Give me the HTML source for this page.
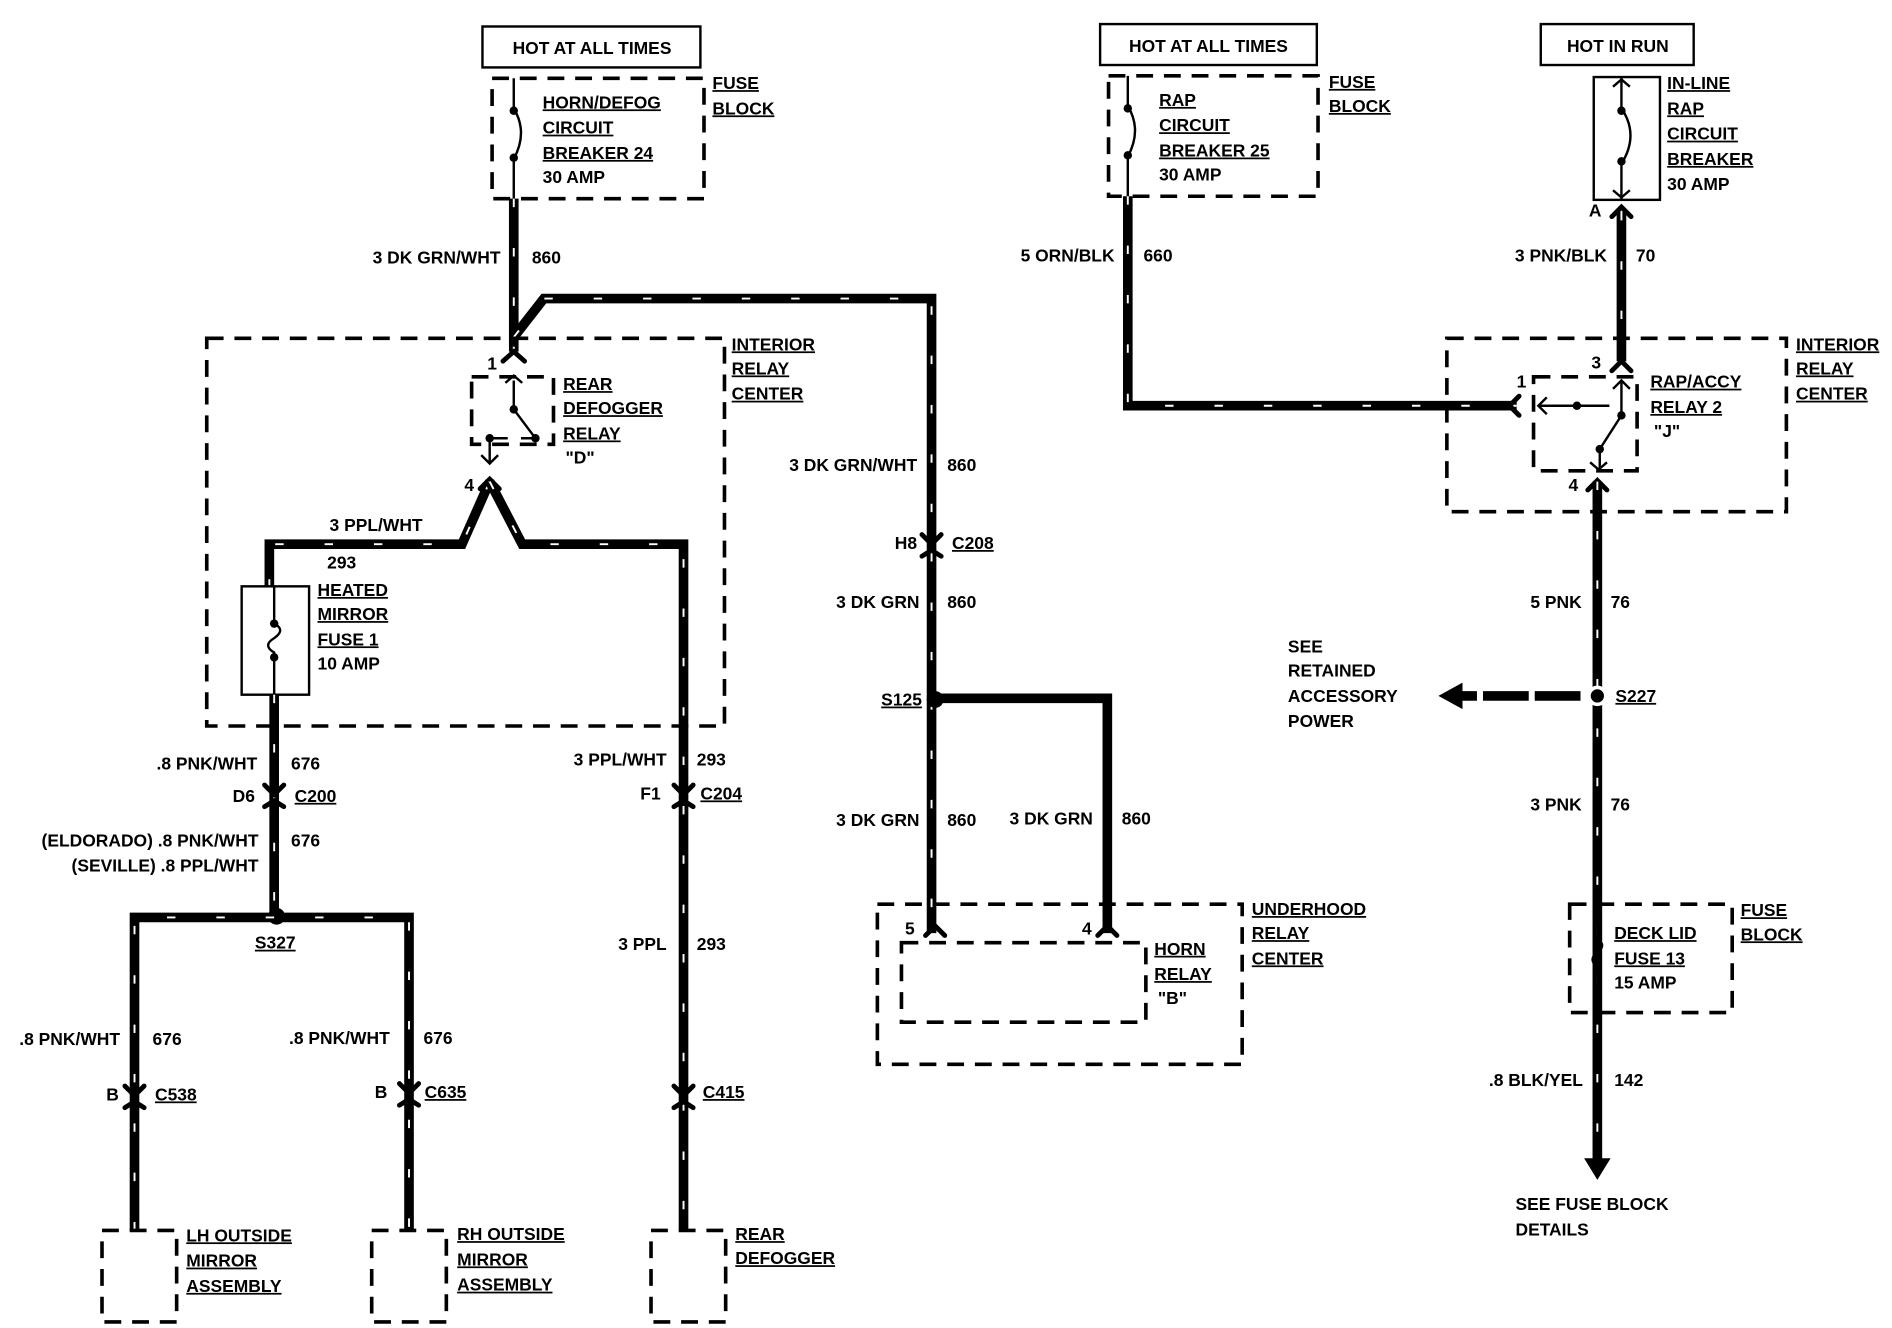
<!DOCTYPE html>
<html><head><meta charset="utf-8"><style>
html,body{margin:0;padding:0;background:#fff;}
svg{display:block;}
text{font-family:"Liberation Sans",sans-serif;font-size:14.5px;font-weight:bold;fill:#000;}
.u{text-decoration:underline;}
.e{text-anchor:end;}
.w{stroke:#000;stroke-width:8;fill:none;stroke-linejoin:miter;}
.d{stroke:#fff;stroke-width:1.6;fill:none;stroke-dasharray:7 34;}
.b{stroke:#000;stroke-width:3;fill:none;stroke-dasharray:14 9;}
.s{stroke:#000;stroke-width:2;fill:none;}
.c{stroke:#000;stroke-width:4;fill:none;stroke-linecap:round;}
</style></head><body>
<svg width="1892" height="1328" viewBox="0 0 1568 1103" xmlns="http://www.w3.org/2000/svg">
<rect width="1568" height="1103" fill="#fff"/>

<!-- ============ LEFT ============ -->
<rect x="399" y="22" width="181" height="34" class="s"/>
<text x="490" y="45" text-anchor="middle">HOT AT ALL TIMES</text>
<rect x="407" y="65" width="176" height="100" class="b"/>
<path d="M425 65 V90 Q437 110 425 132 V165" class="s"/>
<circle cx="425" cy="92" r="3.5"/><circle cx="425" cy="131" r="3.5"/>
<text x="449" y="90" class="u">HORN/DEFOG</text>
<text x="449" y="111" class="u">CIRCUIT</text>
<text x="449" y="132" class="u">BREAKER 24</text>
<text x="449" y="152">30 AMP</text>
<text x="590" y="74" class="u">FUSE</text>
<text x="590" y="95" class="u">BLOCK</text>

<path d="M425 165 V292" class="w"/><path d="M425 165 V292" class="d"/>
<path d="M425 280 L450 248 H772 V775" class="w"/><path d="M425 280 L450 248 H772 V775" class="d"/>
<text x="414" y="219" class="e">3 DK GRN/WHT</text><text x="440" y="219">860</text>

<rect x="170" y="281" width="430" height="322" class="b"/>
<text x="606" y="291" class="u">INTERIOR</text>
<text x="606" y="311" class="u">RELAY</text>
<text x="606" y="332" class="u">CENTER</text>

<!-- relay D -->
<path d="M416 300 L425 292 L434 300" class="c"/>
<text x="403" y="307">1</text>
<rect x="390" y="313" width="68" height="56" class="b"/>
<path d="M425 316 V340 L443 364 H431 M418 318 L425 312 L432 318 M405 364 H420 M405 364 V384 M398 378 L405 385 L412 378" class="s"/>
<circle cx="425" cy="340" r="3.5"/><circle cx="443" cy="364" r="3.5"/><circle cx="405" cy="364" r="3.5"/>
<text x="466" y="324" class="u">REAR</text>
<text x="466" y="344" class="u">DEFOGGER</text>
<text x="466" y="365" class="u">RELAY</text>
<text x="468" y="385">"D"</text>
<text x="384" y="408">4</text>
<path d="M397 406 L405 398 L413 406" class="c"/>

<path d="M405 400 L382 452 H222 V488" class="w"/><path d="M405 400 L382 452 H222 V488" class="d"/>
<path d="M405 400 L432 452 H566 V1022" class="w"/><path d="M405 400 L432 452 H566 V1022" class="d"/>
<text x="272" y="441">3 PPL/WHT</text>
<text x="270" y="472">293</text>

<rect x="199" y="487" width="56" height="90" class="s" stroke-width="3"/>
<path d="M226 487 V518 Q236 523 226 530 Q216 536 226 542 V577" class="s"/>
<circle cx="226" cy="518" r="3.5"/><circle cx="226" cy="546" r="3.5"/>
<text x="262" y="495" class="u">HEATED</text>
<text x="262" y="515" class="u">MIRROR</text>
<text x="262" y="536" class="u">FUSE 1</text>
<text x="262" y="556">10 AMP</text>

<path d="M226 577 V760" class="w"/><path d="M226 577 V760" class="d"/>
<text x="212" y="639" class="e">.8 PNK/WHT</text><text x="240" y="639">676</text>
<text x="210" y="666" class="e">D6</text><text x="243" y="666" class="u">C200</text>
<path d="M218 652 L226 660 L234 652 M218 670 L226 665 L234 670" class="c"/>
<text x="213" y="703" class="e">(ELDORADO) .8 PNK/WHT</text><text x="240" y="703">676</text>
<text x="213" y="724" class="e">(SEVILLE) .8 PPL/WHT</text>
<circle cx="228" cy="761" r="7"/>
<text x="210" y="788" class="u">S327</text>

<path d="M110 1022 V762 H338 V1022" class="w"/><path d="M110 1022 V762 H338 V1022" class="d"/>
<text x="98" y="868" class="e">.8 PNK/WHT</text><text x="125" y="868">676</text>
<text x="97" y="914" class="e">B</text><text x="127" y="914" class="u">C538</text>
<path d="M102 902 L110 910 L118 902 M102 920 L110 915 L118 920" class="c"/>
<text x="322" y="867" class="e">.8 PNK/WHT</text><text x="350" y="867">676</text>
<text x="320" y="912" class="e">B</text><text x="351" y="912" class="u">C635</text>
<path d="M330 900 L338 908 L346 900 M330 918 L338 913 L346 918" class="c"/>

<text x="552" y="636" class="e">3 PPL/WHT</text><text x="577" y="636">293</text>
<text x="547" y="664" class="e">F1</text><text x="580" y="664" class="u">C204</text>
<path d="M558 652 L566 660 L574 652 M558 670 L566 665 L574 670" class="c"/>
<text x="552" y="789" class="e">3 PPL</text><text x="577" y="789">293</text>
<text x="582" y="912" class="u">C415</text>
<path d="M558 902 L566 910 L574 902 M558 920 L566 915 L574 920" class="c"/>

<rect x="83" y="1022" width="62" height="76" class="b"/>
<rect x="307" y="1022" width="62" height="76" class="b"/>
<rect x="539" y="1022" width="62" height="76" class="b"/>
<text x="153" y="1031" class="u">LH OUTSIDE</text>
<text x="153" y="1052" class="u">MIRROR</text>
<text x="153" y="1073" class="u">ASSEMBLY</text>
<text x="378" y="1030" class="u">RH OUTSIDE</text>
<text x="378" y="1051" class="u">MIRROR</text>
<text x="378" y="1072" class="u">ASSEMBLY</text>
<text x="609" y="1030" class="u">REAR</text>
<text x="609" y="1050" class="u">DEFOGGER</text>

<!-- ============ CENTER ============ -->
<text x="760" y="391" class="e">3 DK GRN/WHT</text><text x="785" y="391">860</text>
<text x="760" y="456" class="e">H8</text><text x="789" y="456" class="u">C208</text>
<path d="M764 444 L772 452 L780 444 M764 462 L772 457 L780 462" class="c"/>
<text x="762" y="505" class="e">3 DK GRN</text><text x="785" y="505">860</text>
<circle cx="775" cy="581" r="7"/>
<text x="764" y="586" class="e u">S125</text>
<path d="M775 580 H918 V775" class="w"/>
<text x="762" y="686" class="e">3 DK GRN</text><text x="785" y="686">860</text>
<text x="906" y="685" class="e">3 DK GRN</text><text x="930" y="685">860</text>

<rect x="727" y="751" width="303" height="133" class="b"/>
<path d="M767 777 L775 769 L783 777 M910 777 L918 769 L926 777" class="c"/>
<text x="750" y="776">5</text><text x="897" y="776">4</text>
<rect x="747" y="783" width="203" height="66" class="b"/>
<text x="957" y="793" class="u">HORN</text>
<text x="957" y="814" class="u">RELAY</text>
<text x="960" y="834">"B"</text>
<text x="1038" y="760" class="u">UNDERHOOD</text>
<text x="1038" y="780" class="u">RELAY</text>
<text x="1038" y="801" class="u">CENTER</text>

<!-- ============ RIGHT-CENTER ============ -->
<rect x="912" y="20" width="180" height="34" class="s"/>
<text x="1002" y="43" text-anchor="middle">HOT AT ALL TIMES</text>
<rect x="919" y="63" width="174" height="100" class="b"/>
<path d="M935 63 V88 Q947 108 935 130 V163" class="s"/>
<circle cx="935" cy="90" r="3.5"/><circle cx="935" cy="129" r="3.5"/>
<text x="961" y="88" class="u">RAP</text>
<text x="961" y="109" class="u">CIRCUIT</text>
<text x="961" y="130" class="u">BREAKER 25</text>
<text x="961" y="150">30 AMP</text>
<text x="1102" y="73" class="u">FUSE</text>
<text x="1102" y="93" class="u">BLOCK</text>
<path d="M935 163 V337 H1258" class="w"/><path d="M935 163 V337 H1258" class="d"/>
<text x="924" y="217" class="e">5 ORN/BLK</text><text x="948" y="217">660</text>

<!-- ============ RIGHT ============ -->
<rect x="1278" y="20" width="127" height="34" class="s"/>
<text x="1342" y="43" text-anchor="middle">HOT IN RUN</text>
<rect x="1322" y="64" width="55" height="102" class="s" stroke-width="3"/>
<path d="M1345 64 V90 Q1360 112 1345 136 V166 M1338 72 L1345 66 L1352 72 M1338 158 L1345 164 L1352 158" class="s"/>
<circle cx="1345" cy="92" r="3.5"/><circle cx="1345" cy="134" r="3.5"/>
<text x="1383" y="74" class="u">IN-LINE</text>
<text x="1383" y="95" class="u">RAP</text>
<text x="1383" y="116" class="u">CIRCUIT</text>
<text x="1383" y="137" class="u">BREAKER</text>
<text x="1383" y="158">30 AMP</text>
<text x="1318" y="180">A</text>
<path d="M1337 180 L1345 172 L1353 180" class="c"/>
<path d="M1345 176 V300" class="w"/><path d="M1345 176 V300" class="d"/>
<text x="1333" y="217" class="e">3  PNK/BLK</text><text x="1357" y="217">70</text>

<rect x="1200" y="281" width="282" height="144" class="b"/>
<text x="1490" y="291" class="u">INTERIOR</text>
<text x="1490" y="311" class="u">RELAY</text>
<text x="1490" y="332" class="u">CENTER</text>
<text x="1320" y="306">3</text>
<path d="M1337 308 L1345 300 L1353 308" class="c"/>
<text x="1258" y="322">1</text>
<path d="M1260 329 L1252 337 L1260 345" class="c"/>
<rect x="1272" y="313" width="86" height="78" class="b"/>
<path d="M1345 316 V345 L1327 373 V390 M1338 323 L1345 316 L1352 323 M1276 337 H1335 M1283 330 L1276 337 L1283 344 M1319 384 L1326 390 L1333 384" class="s"/>
<circle cx="1345" cy="345" r="3.5"/><circle cx="1327" cy="373" r="3.5"/><circle cx="1308" cy="337" r="3.5"/>
<text x="1369" y="322" class="u">RAP/ACCY</text>
<text x="1369" y="343" class="u">RELAY 2</text>
<text x="1372" y="363">"J"</text>
<text x="1301" y="408">4</text>
<path d="M1317 407 L1325 399 L1333 407" class="c"/>
<path d="M1325 400 V965" class="w"/><path d="M1325 400 V965" class="d"/>
<path d="M1314 962 L1325 980 L1336 962 Z"/>
<text x="1312" y="505" class="e">5 PNK</text><text x="1336" y="505">76</text>
<circle cx="1325" cy="578" r="7" stroke="#fff" stroke-width="3"/>
<text x="1340" y="583" class="u">S227</text>
<path d="M1311 578 H1210" stroke="#000" stroke-width="8" stroke-dasharray="38 5"/>
<path d="M1213 567 L1193 578 L1213 589 Z"/>
<text x="1068" y="542">SEE</text>
<text x="1068" y="562">RETAINED</text>
<text x="1068" y="583">ACCESSORY</text>
<text x="1068" y="604">POWER</text>
<text x="1312" y="673" class="e">3 PNK</text><text x="1336" y="673">76</text>

<rect x="1302" y="751" width="135" height="90" fill="#fff" class="b"/>
<path d="M1325 751 V780 Q1333 785 1325 791 Q1317 797 1325 803 V841" class="s"/>
<text x="1339" y="780" class="u">DECK LID</text>
<text x="1339" y="801" class="u">FUSE 13</text>
<text x="1339" y="821">15 AMP</text>
<text x="1444" y="761" class="u">FUSE</text>
<text x="1444" y="781" class="u">BLOCK</text>
<text x="1313" y="902" class="e">.8 BLK/YEL</text><text x="1339" y="902">142</text>
<text x="1257" y="1005">SEE FUSE BLOCK</text>
<text x="1257" y="1026">DETAILS</text>
</svg>
</body></html>
